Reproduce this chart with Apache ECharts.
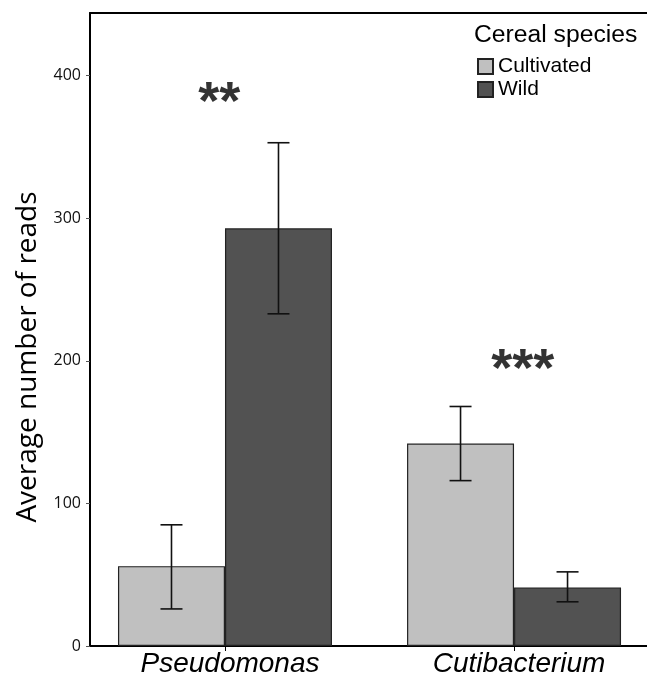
<!DOCTYPE html>
<html>
<head>
<meta charset="utf-8">
<script src="https://cdn.jsdelivr.net/npm/echarts@6/dist/echarts.min.js"></script>
<style>
html,body{margin:0;padding:0;background:#fff;}
#c{width:647px;height:678px;}
</style>
</head>
<body>
<div id="c"></div>
<script>
// ---- data ----
const categories = ['Pseudomonas', 'Cutibacterium'];
const seriesNames = ['Cultivated', 'Wild'];
const cultivatedMean = [56, 142];
const cultivatedLow = [26, 116];
const cultivatedHigh = [85, 168];
const wildMean = [293, 41];
const wildLow = [233, 31];
const wildHigh = [353, 52];
const yTicks = [0, 100, 200, 300, 400];
const significance = ['**', '***'];
const significanceY = [380, 193];
const significanceShift = [-0.02, 0.03];

// ---- styles ----
const BAR_W = 107;
const CAP_W = 22;
const X_MIN = -0.467, X_MAX = 1.46;
const chart = echarts.init(document.getElementById('c'));

function barData(vals) { return vals.map((v, i) => [i, v]); }
function errData(lo, hi) { return lo.map((l, i) => [i, l, hi[i]]); }

function errRender(sign) {
  return function (params, api) {
    const x = api.value(0);
    const pLo = api.coord([x, api.value(1)]);
    const pHi = api.coord([x, api.value(2)]);
    const cx = pLo[0] + sign * BAR_W / 2;
    const st = { stroke: '#111', lineWidth: 1.6 };
    return {
      type: 'group',
      children: [
        { type: 'line', shape: { x1: cx, y1: pLo[1], x2: cx, y2: pHi[1] }, style: st },
        { type: 'line', shape: { x1: cx - CAP_W / 2, y1: pLo[1], x2: cx + CAP_W / 2, y2: pLo[1] }, style: st },
        { type: 'line', shape: { x1: cx - CAP_W / 2, y1: pHi[1], x2: cx + CAP_W / 2, y2: pHi[1] }, style: st }
      ]
    };
  };
}

const catIdx = categories.map((c, i) => i);

chart.setOption({
  animation: false,
  backgroundColor: '#fff',
  grid: { left: 90, right: 0, top: 13, bottom: 30 },
  legend: {
    data: seriesNames,
    orient: 'vertical',
    left: 477, top: 56, padding: 0,
    itemWidth: 15, itemHeight: 15, itemGap: 2,
    icon: 'rect',
    textStyle: { fontFamily: 'Liberation Sans, Arial', fontSize: 21, color: '#000', lineHeight: 21 }
  },
  graphic: [
    { type: 'text', left: 474, top: 23,
      style: { text: 'Cereal species', font: '24.7px "Liberation Sans", Arial', fill: '#000' } },
    { type: 'text', x: 28, y: 357, rotation: Math.PI / 2,
      style: { text: 'Average number of reads', font: '28px "Open Sans", sans-serif', fill: '#000',
               align: 'center', verticalAlign: 'middle' } }
  ],
  xAxis: [{
    type: 'value',
    min: X_MIN, max: X_MAX,
    splitLine: { show: false },
    axisLine: { show: true, onZero: false, lineStyle: { color: '#000', width: 2 } },
    axisTick: { show: true, customValues: catIdx, length: 5, lineStyle: { color: '#000', width: 1 } },
    axisLabel: {
      customValues: catIdx,
      formatter: v => categories[Math.round(v)] || '',
      fontFamily: 'Liberation Sans, Arial', fontStyle: 'italic', fontSize: 28, color: '#000', margin: 4,
      padding: [0, 0, 0, 10]
    }
  }, {
    type: 'value', position: 'top',
    min: X_MIN, max: X_MAX,
    splitLine: { show: false },
    axisLine: { show: true, onZero: false, lineStyle: { color: '#000', width: 2 } },
    axisTick: { show: false }, axisLabel: { show: false }
  }],
  yAxis: {
    type: 'value', min: 0, max: 444,
    splitLine: { show: false },
    axisLine: { show: true, onZero: false, lineStyle: { color: '#000', width: 2 } },
    axisTick: { show: true, customValues: yTicks, length: 4, lineStyle: { color: '#555', width: 1 } },
    axisLabel: { customValues: yTicks, fontFamily: 'Open Sans', fontSize: 16, color: '#111', margin: 9 }
  },
  series: [
    { name: 'Cultivated', type: 'bar', data: barData(cultivatedMean), barWidth: BAR_W, barGap: '0%',
      itemStyle: { color: '#c0c0c0', borderColor: '#222', borderWidth: 1.2 } },
    { name: 'Wild', type: 'bar', data: barData(wildMean), barWidth: BAR_W, barGap: '0%',
      itemStyle: { color: '#525252', borderColor: '#222', borderWidth: 1.2 } },
    { type: 'custom', data: errData(cultivatedLow, cultivatedHigh), renderItem: errRender(-1),
      encode: { x: 0, y: [1, 2] }, z: 5, silent: true },
    { type: 'custom', data: errData(wildLow, wildHigh), renderItem: errRender(1),
      encode: { x: 0, y: [1, 2] }, z: 5, silent: true },
    { type: 'scatter', symbolSize: 0, z: 6, silent: true,
      data: significance.map((s, i) => ({ value: [i + significanceShift[i], significanceY[i]], name: s })),
      label: { show: true, position: 'inside', formatter: p => p.name,
               fontFamily: 'Liberation Sans, Arial', fontWeight: 'bold', fontSize: 54, color: '#000' } }
  ]
});
</script>
</body>
</html>
